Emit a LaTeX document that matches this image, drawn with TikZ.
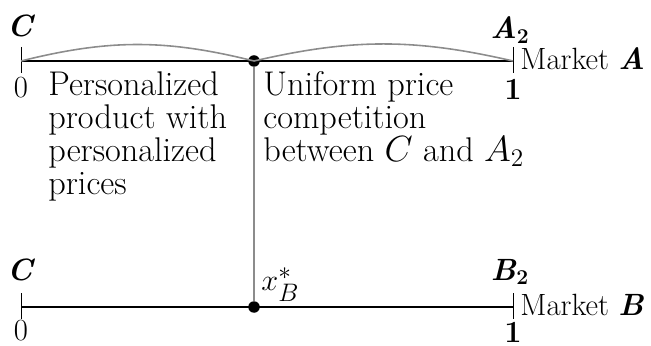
\documentclass[tikz,border=0pt]{standalone}
\usepackage{amsmath, amssymb}
\usepackage{tikz}
\usetikzlibrary{positioning}

\begin{document}
\begin{tikzpicture}[x=0.2mm, y=-0.2mm,
    market/.style={line width=1.7pt},
    tick/.style={line width=0.5pt},
    split/.style={circle, fill=black, inner sep=0pt, minimum size=2.3mm},
    lbl/.style={font=\fontsize{17.5}{20.5}\selectfont, inner sep=0pt},
    note/.style={font=\fontsize{19.5}{18.8}\selectfont, inner sep=0pt, align=left, anchor=north west},
    share/.style={black!45, line width=0.9pt}]
      \useasboundingbox (0,0) rectangle (651,346);
      % market A
      \coordinate (a0) at (21,61);
      \coordinate (a1) at (513,61);
      \node[split] (xa) at (254,61) {};
      \draw[market] (a0) -- (a1);
      \draw[tick] (21,47) -- (21,73);
      \draw[tick] (513,47) -- (513,73);
      \draw[share] (a0) to[bend left=14] (xa.center) to[bend left=13] (a1);
      \node[lbl] (ca) at (21,26) {\textbf{\textit{C}}};
      \node[lbl] (a2) at (510,30) {\textbf{\textit{A}}$_{\mathbf{2}}$};
      \node[lbl] (za) at (21,88) {0};
      \node[lbl] (oa) at (513,89) {\textbf{1}};
      \node[lbl, anchor=base west] (mka) at (520,70) {Market \textbf{\textit{A}}};
      \node[note] (pers) at (48,71)
        {Personalized\\product with\\personalized\\prices};
      \node[note] (unif) at (263,71)
        {Uniform price\\competition\\between $C$ and $A_2$};
      % market B
      \coordinate (b0) at (21,307);
      \coordinate (b1) at (513,307);
      \node[split] (xb) at (254,307) {};
      \draw[share, line width=0.6pt] (xa) -- (xb);
      \draw[market] (b0) -- (b1);
      \draw[tick] (21,293) -- (21,319);
      \draw[tick] (513,293) -- (513,319);
      \node[lbl] (cb) at (21,270) {\textbf{\textit{C}}};
      \node[lbl] (b2) at (510,272) {\textbf{\textit{B}}$_{\mathbf{2}}$};
      \node[lbl] (zb) at (21,331) {0};
      \node[lbl] (ob) at (513,332) {\textbf{1}};
      \node[lbl, anchor=base west] (mkb) at (520,315) {Market \textbf{\textit{B}}};
      \node[lbl, font=\fontsize{19}{20}\selectfont, anchor=south west] (xs) at (261,302) {$x_B^*$};
\end{tikzpicture}
\end{document}
